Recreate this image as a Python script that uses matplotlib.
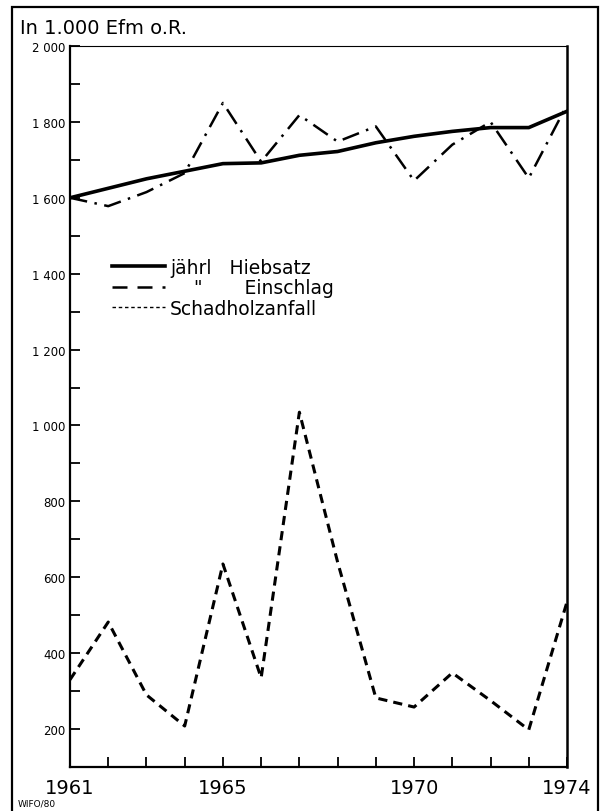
import numpy as np
import matplotlib.pyplot as plt
from matplotlib.lines import Line2D
from matplotlib.patches import Rectangle

plt.rcParams['font.family'] = ['DejaVu Sans']

# Daten (in 1.000 Efm o.R.)
jahre = np.arange(1961, 1975)
hiebsatz = [1600, 1625, 1650, 1670, 1690, 1692, 1712, 1722, 1745, 1762, 1775, 1785, 1785, 1828]
einschlag = [1600, 1578, 1615, 1665, 1850, 1695, 1818, 1748, 1788, 1645, 1740, 1800, 1652, 1845]
schadholz = [330, 482, 290, 208, 635, 335, 1035, 640, 282, 258, 348, 275, 198, 535]

y_labels = ['200', '400', '600', '800', '1 000', '1 200', '1 400', '1 600', '1 800', '2 000']
x_labels = {1961: '1961', 1965: '1965', 1970: '1970', 1974: '1974'}

fig = plt.figure(figsize=(6.01, 8.12), dpi=100)
ax = fig.add_axes([70 / 601, 44 / 812, 497 / 601, 721 / 812])

ax.plot(jahre, hiebsatz, color='k', linewidth=2.6, solid_joinstyle='miter')
ax.plot(jahre, einschlag, color='k', linewidth=1.8, dashes=(7, 3, 1, 3))
ax.plot(jahre, schadholz, color='k', linewidth=2.2, dashes=(3, 2))

ax.set_xlim(1961, 1974)
ax.set_ylim(100, 2000)

# Achsen
ax.spines['top'].set_linewidth(0.8)
ax.spines['left'].set_linewidth(1.6)
ax.spines['bottom'].set_linewidth(1.6)
ax.spines['right'].set_linewidth(1.8)

ax.set_yticks(np.arange(200, 2001, 200))
ax.set_yticklabels(y_labels, fontsize=8.5)
ax.set_yticks(np.arange(300, 2000, 200), minor=True)
ax.set_xticks(jahre)
ax.set_xticklabels([x_labels.get(j, '') for j in jahre], fontsize=14)
ax.tick_params(axis='both', which='both', direction='in', length=7, width=1.3,
               color='k', pad=3)
ax.tick_params(axis='x', pad=8)

# Legende
handles = [
    Line2D([], [], color='k', linewidth=2.6),
    Line2D([], [], color='k', linewidth=1.8, dashes=(6, 4)),
    Line2D([], [], color='k', linewidth=1.0, dashes=(2.5, 2)),
]
labels = ['jährl   Hiebsatz', '    "       Einschlag', 'Schadholzanfall']
ax.legend(handles, labels, loc='upper left', bbox_to_anchor=(42 / 497, 0.706),
          frameon=False, fontsize=13.5, handlelength=2.8, handletextpad=0.3,
          labelspacing=0.08, borderaxespad=0, borderpad=0)

# Texte
fig.text(20 / 601, 1 - 28 / 812, 'In 1.000 Efm o.R.', fontsize=14,
         va='center', ha='left')
fig.text(18 / 601, 1 - 804 / 812, 'WIFO/80', fontsize=6.5, va='center', ha='left')

# Rahmen
fig.patches.append(Rectangle((12 / 601, -0.01), 586 / 601, 1 - 8 / 812 + 0.01,
                             transform=fig.transFigure, fill=False,
                             edgecolor='k', linewidth=1.6))

fig.savefig('out.png', dpi=100)
